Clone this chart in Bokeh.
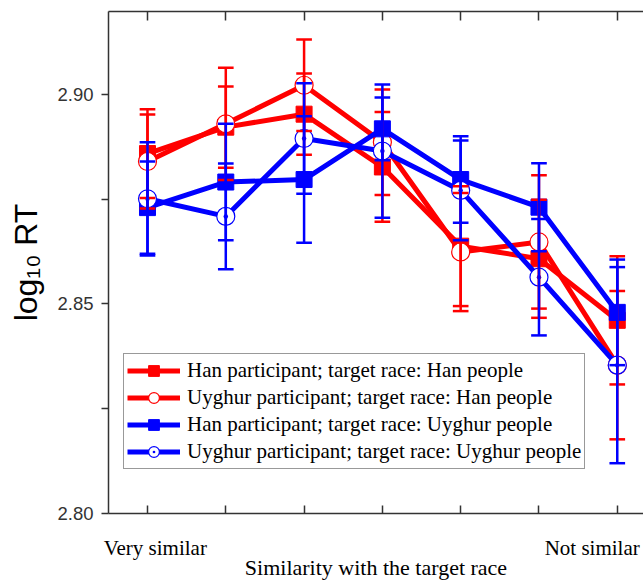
import numpy as np
from bokeh.plotting import figure
from bokeh.models import (FixedTicker, LinearAxis, Range1d, Legend, LegendItem,
                          PrintfTickFormatter)
from bokeh.embed import file_html
from bokeh.resources import INLINE

# ---------------- data ----------------
similarity_levels = [1, 2, 3, 4, 5, 6, 7]
x_label_positions = [1.10, 6.68]
x_label_texts = ["Very similar", "Not similar"]
y_major_ticks = [2.80, 2.85, 2.90]
y_minor_ticks = [2.825, 2.875]
y_title = "log\u2081\u2080 RT"
x_title = "Similarity with the target race"

series_labels = [
    "Han participant; target race: Han people",
    "Uyghur participant; target race: Han people",
    "Han participant; target race: Uyghur people",
    "Uyghur participant; target race: Uyghur people",
]

han_han_mean = [2.8859, 2.8922, 2.8953, 2.8827, 2.8638, 2.8608, 2.8461]
han_han_err = [0.0106, 0.0097, 0.0097, 0.0131, 0.0143, 0.0141, 0.0153]

uyg_han_mean = [2.8840, 2.8930, 2.9022, 2.8886, 2.8624, 2.8648, 2.8354]
uyg_han_err = [0.0112, 0.0134, 0.0109, 0.0126, 0.0141, 0.0159, 0.0177]

han_uyg_mean = [2.8730, 2.8791, 2.8797, 2.8918, 2.8797, 2.8731, 2.8480]
han_uyg_err = [0.0110, 0.0139, 0.0151, 0.0075, 0.0103, 0.0105, 0.0126]

uyg_uyg_mean = [2.8751, 2.8709, 2.8895, 2.8865, 2.8771, 2.8564, 2.8354]
uyg_uyg_err = [0.0135, 0.0126, 0.0132, 0.0159, 0.0119, 0.0139, 0.0234]

RED = "#ff0000"
BLUE = "#0000ff"
AX = "#333333"

# ---------------- figure ----------------
X0, X1 = 0.502, 7.335
Y0, Y1 = 2.80, 2.9198
p = figure(width=643, height=583, output_backend="svg", toolbar_location=None,
           x_range=Range1d(X0, X1), y_range=Range1d(Y0, Y1),
           x_axis_type=None, y_axis_type=None,
           min_border_left=108, min_border_right=0, min_border_top=11,
           min_border_bottom=70)
p.outline_line_color = None
p.background_fill_color = "white"

xb = LinearAxis(ticker=FixedTicker(ticks=x_label_positions, minor_ticks=similarity_levels),
                major_label_overrides={x_label_positions[0]: x_label_texts[0],
                                       x_label_positions[1]: x_label_texts[1]},
                major_tick_in=0, major_tick_out=0,
                minor_tick_in=8, minor_tick_out=0,
                minor_tick_line_color=AX, minor_tick_line_width=1.5,
                axis_line_color=AX, axis_line_width=1.5,
                major_label_text_font="Liberation Serif",
                major_label_text_font_size="21px",
                major_label_text_color="black",
                major_label_standoff=22,
                axis_label=x_title,
                axis_label_text_font="Liberation Serif",
                axis_label_text_font_size="22px",
                axis_label_text_font_style="normal",
                axis_label_text_color="black",
                axis_label_standoff=-8)
p.add_layout(xb, "below")

xt = LinearAxis(ticker=FixedTicker(ticks=[], minor_ticks=similarity_levels),
                major_tick_in=0, major_tick_out=0,
                minor_tick_in=9, minor_tick_out=0,
                minor_tick_line_color=AX, minor_tick_line_width=1.5,
                axis_line_color=AX, axis_line_width=1.5,
                major_label_standoff=0)
p.add_layout(xt, "above")

yl = LinearAxis(ticker=FixedTicker(ticks=y_major_ticks, minor_ticks=y_minor_ticks),
                formatter=PrintfTickFormatter(format="%.2f"),
                major_tick_in=0, major_tick_out=7,
                minor_tick_in=0, minor_tick_out=7,
                major_tick_line_color=AX, minor_tick_line_color=AX,
                major_tick_line_width=1.5, minor_tick_line_width=1.5,
                axis_line_color=AX, axis_line_width=1.5,
                major_label_text_font="Liberation Sans",
                major_label_text_font_size="18.5px",
                major_label_text_color="#333333",
                major_label_standoff=8,
                axis_label=y_title,
                axis_label_text_font="Liberation Sans",
                axis_label_text_font_size="32px",
                axis_label_text_font_style="normal",
                axis_label_text_color="black",
                axis_label_standoff=10)
p.add_layout(yl, "left")

# ---------------- series ----------------
x = np.array(similarity_levels, dtype=float)
series = [
    (han_han_mean, han_han_err, RED, "square"),
    (uyg_han_mean, uyg_han_err, RED, "circle"),
    (han_uyg_mean, han_uyg_err, BLUE, "square"),
    (uyg_uyg_mean, uyg_uyg_err, BLUE, "circle_dot"),
]

items = []
for (mean, err, col, mk), lab in zip(series, series_labels):
    m = np.array(mean)
    lr = p.line(x, m, line_color=col, line_width=5)
    if mk == "square":
        sr = p.scatter(x, m, marker="square", size=16, fill_color=col, line_color=col)
    else:
        sr = p.scatter(x, m, marker=mk, size=18, fill_color="white", line_color=col,
                       line_width=1.2)
    items.append(LegendItem(label=lab, renderers=[lr, sr]))

cap = 0.1
for (mean, err, col, mk) in series:
    m = np.array(mean)
    e = np.array(err)
    p.segment(x, m - e, x, m + e, line_color=col, line_width=2.5)
    p.segment(x - cap, m + e, x + cap, m + e, line_color=col, line_width=2.5)
    p.segment(x - cap, m - e, x + cap, m - e, line_color=col, line_width=2.5)

legend = Legend(items=items, location=(15, 44),
                label_text_font="Liberation Serif", label_text_font_size="21px",
                label_text_color="black",
                glyph_width=53, glyph_height=27, label_height=27,
                label_standoff=7, padding=3, spacing=0, margin=0,
                border_line_color="#333333", border_line_width=1.2,
                background_fill_color="white", background_fill_alpha=1.0)
p.add_layout(legend)

open("out.html", "w").write(file_html(p, INLINE))
